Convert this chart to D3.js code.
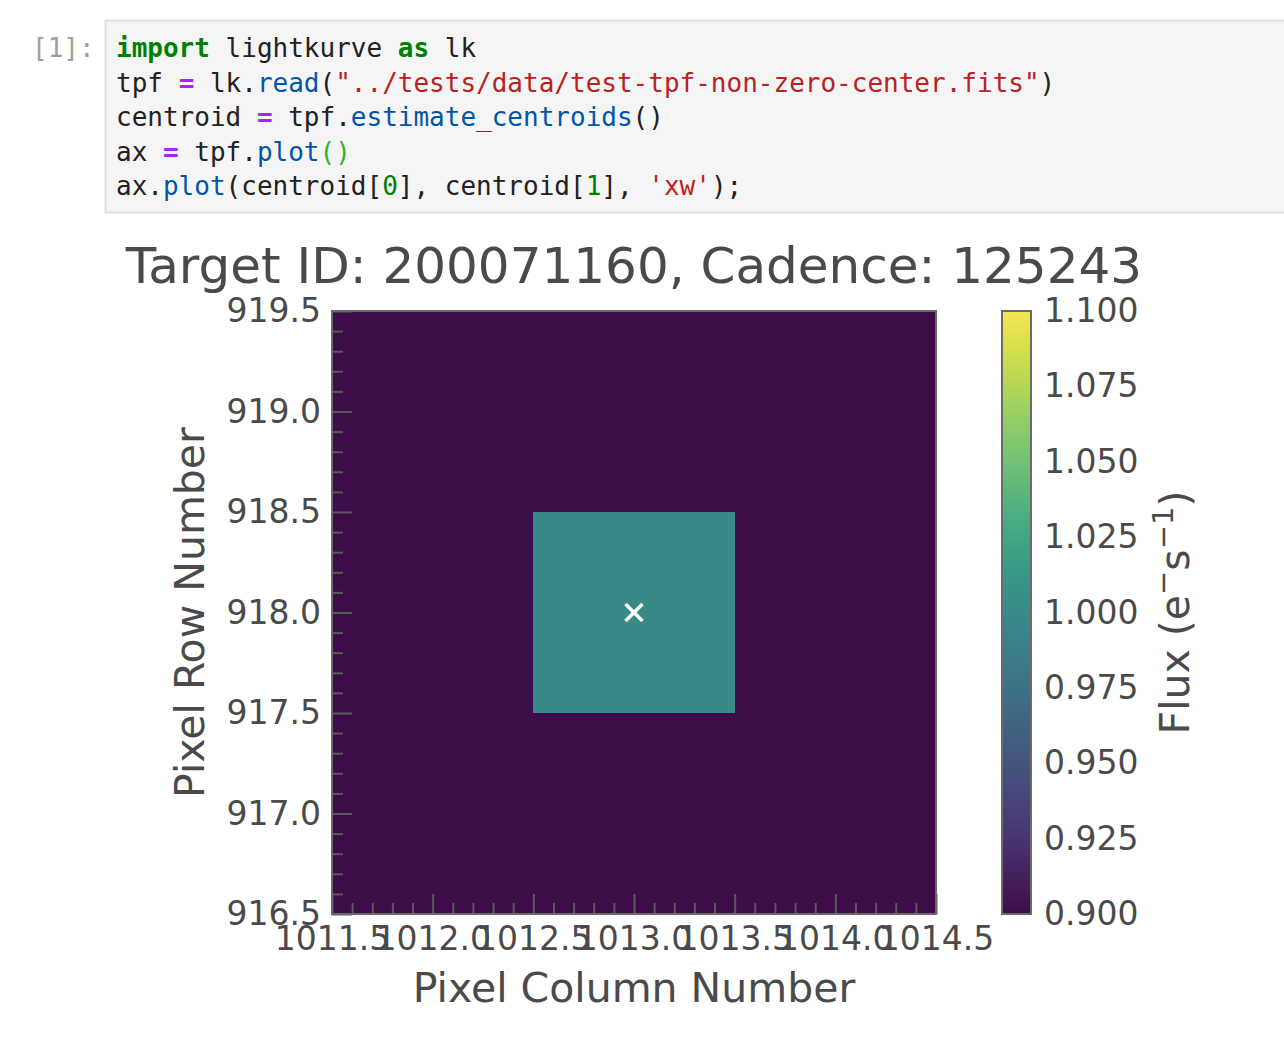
<!DOCTYPE html>
<html>
<head>
<meta charset="utf-8">
<script src="https://cdn.jsdelivr.net/npm/d3@7"></script>
<style>
  body { margin: 0; background: #fff; }
  svg { display: block; }
</style>
</head>
<body>
<svg id="page" width="1284" height="1040"></svg>
<script>
// ---- data ----
const colNumbers = [1012, 1013, 1014];
const rowNumbers = [917, 918, 919];
// flux per pixel, rows bottom->top (917, 918, 919)
const fluxGrid = [
  [0.9, 0.9, 0.9],
  [0.9, 1.0, 0.9],
  [0.9, 0.9, 0.9]
];
const centroidCol = [1013.0];
const centroidRow = [918.0];
const xTicks = [1011.5, 1012.0, 1012.5, 1013.0, 1013.5, 1014.0, 1014.5];
const yTicks = [916.5, 917.0, 917.5, 918.0, 918.5, 919.0, 919.5];
const cbarTicks = [0.900, 0.925, 0.950, 0.975, 1.000, 1.025, 1.050, 1.075, 1.100];
const fluxRange = [0.9, 1.1];
const titleText = "Target ID: 200071160, Cadence: 125243";

const codeLines = [
  [["import", "kw"], [" lightkurve ", ""], ["as", "kw"], [" lk", ""]],
  [["tpf ", ""], ["=", "op"], [" lk.", ""], ["read", "fn"], ["(", ""], ["\"../tests/data/test-tpf-non-zero-center.fits\"", "str"], [")", ""]],
  [["centroid ", ""], ["=", "op"], [" tpf.", ""], ["estimate_centroids", "fn"], ["()", ""]],
  [["ax ", ""], ["=", "op"], [" tpf.", ""], ["plot", "fn"], ["()", "br"]],
  [["ax.", ""], ["plot", "fn"], ["(centroid[", ""], ["0", "num"], ["], centroid[", ""], ["1", "num"], ["], ", ""], ["'xw'", "str"], [");", ""]]
];

const svg = d3.select("#page");

// ---- code cell ----
const codeColors = { kw: "#008000", op: "#aa22ff", fn: "#0055aa", str: "#ba2121", num: "#008000", br: "#2fb52f", "": "#212121" };

svg.append("rect")
  .attr("x", 105.5).attr("y", 20.5)
  .attr("width", 1200).attr("height", 192)
  .attr("fill", "#f5f5f5")
  .attr("stroke", "#e0e0e0")
  .attr("stroke-width", 2);

svg.append("text")
  .attr("x", 32).attr("y", 57)
  .attr("font-family", "DejaVu Sans Mono")
  .attr("font-size", 26)
  .attr("fill", "#9e9e9e")
  .text("[1]:");

codeLines.forEach((line, i) => {
  const t = svg.append("text")
    .attr("x", 116).attr("y", 57 + i * 34.5)
    .attr("font-family", "DejaVu Sans Mono")
    .attr("font-size", 26)
    .attr("xml:space", "preserve")
    .style("white-space", "pre");
  line.forEach(([s, k]) => {
    t.append("tspan")
      .attr("fill", codeColors[k])
      .attr("font-weight", k === "kw" || k === "op" ? "bold" : null)
      .text(s);
  });
});

// ---- chart ----
const L = 332, R = 936, T = 311, B = 914;
const x = d3.scaleLinear().domain([1011.5, 1014.5]).range([L, R]);
const y = d3.scaleLinear().domain([916.5, 919.5]).range([B, T]);

// viridis, a little muted like the screenshot
function cmap(t) {
  const c = d3.rgb(d3.interpolateViridis(t));
  const lum = 0.299 * c.r + 0.587 * c.g + 0.114 * c.b;
  return d3.interpolateRgb(c, d3.rgb(lum + 12, lum + 12, lum + 12))(0.26);
}
const color = d3.scaleSequential(cmap).domain(fluxRange).clamp(true);

const FONT = "DejaVu Sans";
const TXT = "#4a4a4a";

const cells = [];
rowNumbers.forEach((r, ri) => colNumbers.forEach((c, ci) => cells.push({ r, c, v: fluxGrid[ri][ci] })));

const plot = svg.append("g");
plot.selectAll("rect.px")
  .data(cells)
  .join("rect")
  .attr("class", "px")
  .attr("x", d => x(d.c - 0.5))
  .attr("y", d => y(d.r + 0.5))
  .attr("width", d => x(d.c + 0.5) - x(d.c - 0.5))
  .attr("height", d => y(d.r - 0.5) - y(d.r + 0.5))
  .attr("fill", d => color(d.v))
  .attr("shape-rendering", "crispEdges");

// minor ticks (inward)
const minorX = d3.range(1011.6, 1014.45, 0.1).filter(v => Math.abs(v * 2 - Math.round(v * 2)) > 1e-6);
const minorY = d3.range(916.6, 919.45, 0.1).filter(v => Math.abs(v * 2 - Math.round(v * 2)) > 1e-6);

function styleAxis(g, size) {
  g.select(".domain").remove();
  g.selectAll(".tick line").attr("stroke", "#5a5a5a").attr("stroke-width", 2);
  g.selectAll(".tick text").attr("fill", TXT).attr("font-family", FONT).attr("font-size", size);
}

svg.append("g").attr("transform", `translate(0,${B})`)
  .call(d3.axisBottom(x).tickValues(minorX).tickSize(-11).tickFormat(""))
  .call(g => styleAxis(g, 33));
svg.append("g").attr("transform", `translate(${L},0)`)
  .call(d3.axisLeft(y).tickValues(minorY).tickSize(-11).tickFormat(""))
  .call(g => styleAxis(g, 33));

svg.append("g").attr("transform", `translate(0,${B})`)
  .call(d3.axisBottom(x).tickValues(xTicks).tickSize(-20).tickPadding(13).tickFormat(d3.format(".1f")))
  .call(g => styleAxis(g, 33));
svg.append("g").attr("transform", `translate(${L},0)`)
  .call(d3.axisLeft(y).tickValues(yTicks).tickSize(-20).tickPadding(11).tickFormat(d3.format(".1f")))
  .call(g => styleAxis(g, 33));

// frame
svg.append("rect")
  .attr("x", L).attr("y", T)
  .attr("width", R - L).attr("height", B - T)
  .attr("fill", "none")
  .attr("stroke", "#6a6a6a")
  .attr("stroke-width", 2);

// centroid marker 'xw'
const mk = svg.append("g");
centroidCol.forEach((c, i) => {
  const cx = x(c), cy = y(centroidRow[i]), h = 8.5;
  mk.append("path")
    .attr("d", `M${cx - h},${cy - h}L${cx + h},${cy + h}M${cx - h},${cy + h}L${cx + h},${cy - h}`)
    .attr("stroke", "#fff")
    .attr("stroke-width", 3.5);
});

// title
svg.append("text")
  .attr("x", (L + R) / 2).attr("y", 283)
  .attr("text-anchor", "middle")
  .attr("font-family", FONT).attr("font-size", 50)
  .attr("fill", TXT)
  .text(titleText);

// axis labels
svg.append("text")
  .attr("x", (L + R) / 2).attr("y", 1002)
  .attr("text-anchor", "middle")
  .attr("font-family", FONT).attr("font-size", 41)
  .attr("fill", TXT)
  .text("Pixel Column Number");

svg.append("text")
  .attr("transform", `translate(204,${(T + B) / 2}) rotate(-90)`)
  .attr("text-anchor", "middle")
  .attr("font-family", FONT).attr("font-size", 41)
  .attr("fill", TXT)
  .text("Pixel Row Number");

// ---- colorbar ----
const CL = 1002, CR = 1031;
const cy = d3.scaleLinear().domain(fluxRange).range([B, T]);

const grad = svg.append("defs").append("linearGradient")
  .attr("id", "viridis")
  .attr("x1", 0).attr("y1", 1).attr("x2", 0).attr("y2", 0);
d3.range(0, 1.0001, 0.05).forEach(t => {
  grad.append("stop").attr("offset", t).attr("stop-color", cmap(t));
});

svg.append("rect")
  .attr("x", CL).attr("y", T)
  .attr("width", CR - CL).attr("height", B - T)
  .attr("fill", "url(#viridis)")
  .attr("stroke", "#6a6a6a")
  .attr("stroke-width", 2);

svg.append("g").attr("transform", `translate(${CR},0)`)
  .call(d3.axisRight(cy).tickValues(cbarTicks).tickSize(0).tickPadding(13).tickFormat(d3.format(".3f")))
  .call(g => styleAxis(g, 33));

const cl = svg.append("text")
  .attr("transform", `translate(1189,${(T + B) / 2}) rotate(-90)`)
  .attr("text-anchor", "middle")
  .attr("font-family", FONT).attr("font-size", 41)
  .attr("fill", TXT);
cl.append("tspan").text("Flux (e");
cl.append("tspan").attr("font-size", 29).attr("dy", -16).text("\u2212");
cl.append("tspan").attr("dy", 16).text("s");
cl.append("tspan").attr("font-size", 29).attr("dy", -16).text("\u22121");
cl.append("tspan").attr("dy", 16).text(")");
</script>
</body>
</html>
